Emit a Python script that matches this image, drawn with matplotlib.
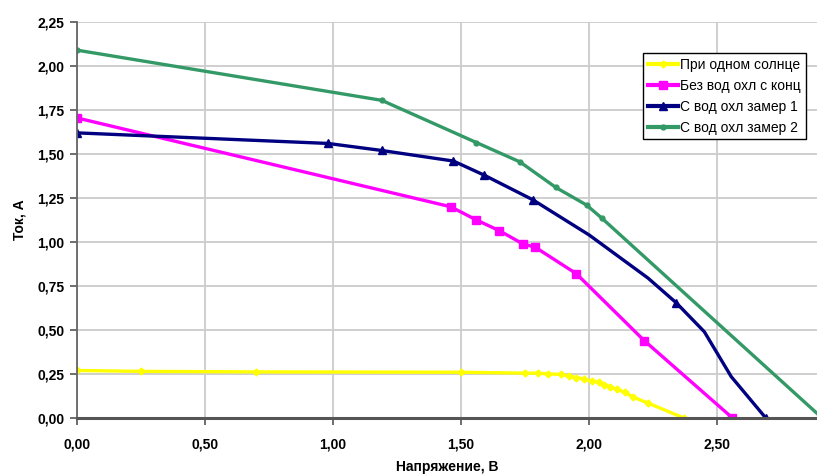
import matplotlib
matplotlib.use("Agg")
import matplotlib.pyplot as plt

plt.rcParams['font.family'] = ['Liberation Sans', 'DejaVu Sans']

# Вольт-амперные характеристики
x_sun = [0, 0.25, 0.70, 1.50, 1.75, 1.80, 1.84, 1.89, 1.92, 1.95, 1.98, 2.01,
         2.04, 2.06, 2.08, 2.11, 2.14, 2.17, 2.23, 2.37]
y_sun = [0.27, 0.265, 0.262, 0.26, 0.255, 0.255, 0.25, 0.248, 0.238, 0.23, 0.222,
         0.21, 0.203, 0.19, 0.178, 0.162, 0.146, 0.12, 0.085, 0.0]

x_conc = [0, 1.46, 1.56, 1.65, 1.74, 1.79, 1.95, 2.215, 2.56]
y_conc = [1.705, 1.20, 1.125, 1.064, 0.99, 0.97, 0.82, 0.44, 0.0]

x_cool1 = [0, 0.98, 1.19, 1.47, 1.59, 1.78, 2.00, 2.23, 2.34, 2.45, 2.555, 2.69]
y_cool1 = [1.62, 1.56, 1.52, 1.46, 1.38, 1.24, 1.04, 0.795, 0.655, 0.49, 0.235, 0.0]
cool1_markers = [0, 1, 2, 3, 4, 5, 8, 11]

x_cool2 = [0, 1.19, 1.56, 1.73, 1.87, 1.99, 2.05, 2.91]
y_cool2 = [2.09, 1.805, 1.565, 1.455, 1.31, 1.21, 1.135, 0.0]

labels = ["При одном солнце", "Без вод охл с конц", "С вод охл замер 1", "С вод охл замер 2"]
x_ticks = [0, 0.5, 1.0, 1.5, 2.0, 2.5]
y_ticks = [0, 0.25, 0.5, 0.75, 1.0, 1.25, 1.5, 1.75, 2.0, 2.25]

fig = plt.figure(figsize=(8.17, 4.75), dpi=100)
ax = fig.add_axes([0.0942, 0.12, 0.9058, 0.8337])

ax.plot(x_sun, y_sun, color='#FFFF00', lw=2.4, marker='D', ms=3.5, label=labels[0])
ax.plot(x_conc, y_conc, color='#FF00FF', lw=2.4, marker='s', ms=5.5, label=labels[1])
ax.plot(x_cool1, y_cool1, color='#000080', lw=2.4, marker='^', ms=6,
        markevery=cool1_markers, label=labels[2])
ax.plot(x_cool2, y_cool2, color='#339966', lw=2.4, marker='o', ms=3.5, label=labels[3])

ax.set_xlim(0, 2.89)
ax.set_ylim(0, 2.25)
ax.set_xticks(x_ticks)
ax.set_yticks(y_ticks)
ax.set_xticklabels([f"{v:.2f}".replace('.', ',') for v in x_ticks], fontweight='bold', fontsize=10)
ax.set_yticklabels([f"{v:.2f}".replace('.', ',') for v in y_ticks], fontweight='bold', fontsize=10)
ax.tick_params(axis='x', direction='out', length=5, width=1.2, color='#555555', pad=9)
ax.tick_params(axis='y', direction='out', length=5, width=1.2, color='#555555', pad=4)

ax.grid(True, color='#CCCCCC', lw=1.3)
ax.set_axisbelow(True)
for s in ['top', 'right']:
    ax.spines[s].set_visible(False)
ax.spines['left'].set_color('#666666')
ax.spines['left'].set_linewidth(1.3)
ax.spines['bottom'].set_color('#555555')
ax.spines['bottom'].set_linewidth(2.2)

ax.set_xlabel("Напряжение, В", fontweight='bold', fontsize=10, labelpad=6)
ax.set_ylabel("Ток, А", fontweight='bold', fontsize=10, labelpad=8)

leg = ax.legend(loc='upper right', bbox_to_anchor=(0.985, 0.922), fontsize=10,
                frameon=True, fancybox=False, edgecolor='black', framealpha=1,
                handlelength=2.1, handletextpad=0.2, borderpad=0.35, labelspacing=0.5,
                borderaxespad=0)
leg.get_frame().set_linewidth(1.0)
for line in leg.get_lines():
    line.set_linewidth(3)

fig.savefig("out.png", dpi=100)
